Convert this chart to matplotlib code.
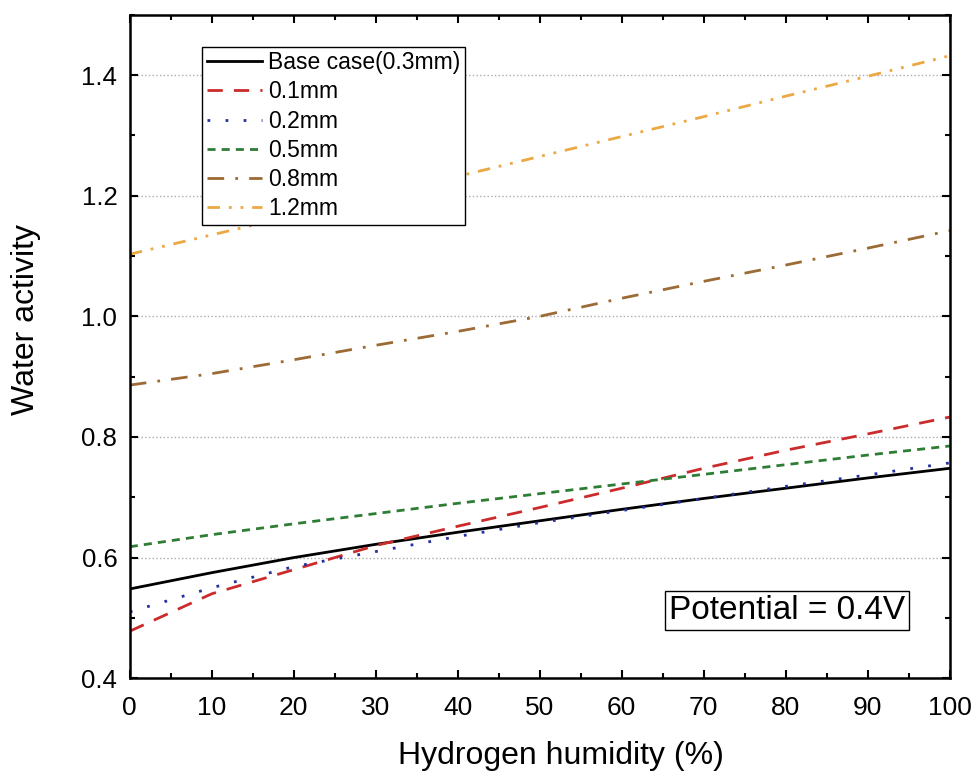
import matplotlib
matplotlib.use("Agg")
from matplotlib import pyplot as plt
from matplotlib.ticker import MultipleLocator
import numpy as np

humidity = [0, 10, 20, 30, 40, 50, 60, 70, 80, 90, 100]
base_case = [0.548, 0.575, 0.600, 0.622, 0.642, 0.661, 0.680, 0.698, 0.715, 0.732, 0.748]
mm_01 = [0.478, 0.540, 0.580, 0.620, 0.652, 0.683, 0.715, 0.748, 0.778, 0.805, 0.833]
mm_02 = [0.510, 0.550, 0.585, 0.610, 0.635, 0.658, 0.678, 0.698, 0.718, 0.737, 0.757]
mm_05 = [0.618, 0.638, 0.656, 0.673, 0.690, 0.706, 0.722, 0.738, 0.754, 0.770, 0.785]
mm_08 = [0.886, 0.905, 0.928, 0.952, 0.975, 1.000, 1.030, 1.058, 1.085, 1.113, 1.142]
mm_12 = [1.103, 1.135, 1.167, 1.199, 1.232, 1.265, 1.298, 1.331, 1.365, 1.398, 1.432]

plt.rcParams['font.family'] = ['Liberation Sans', 'DejaVu Sans']

fig = plt.figure(figsize=(9.76, 7.76), dpi=100)
ax = fig.add_axes([0.133, 0.126, 0.840, 0.855])

lw = 2
ax.plot(humidity, base_case, color='black', lw=lw, ls='-', label='Base case(0.3mm)')
ax.plot(humidity, mm_01, color='#cc2b2b', lw=lw, ls=(0, (5.5, 4)), label='0.1mm')
ax.plot(humidity, mm_02, color='#25309e', lw=lw, ls=(0, (1, 5.5)), label='0.2mm')
ax.plot(humidity, mm_05, color='#2e7d35', lw=lw, ls=(0, (2.9, 2.2)), label='0.5mm')
ax.plot(humidity, mm_08, color='#9c6a35', lw=lw, ls=(0, (6, 4, 1, 4)), label='0.8mm')
ax.plot(humidity, mm_12, color='#eba843', lw=lw, ls=(0, (4.5, 3.2, 1, 3.2, 1, 3.2)), label='1.2mm')

ax.set_xlim(0, 100)
ax.set_ylim(0.4, 1.5)
ax.xaxis.set_major_locator(MultipleLocator(10))
ax.xaxis.set_minor_locator(MultipleLocator(5))
ax.yaxis.set_major_locator(MultipleLocator(0.2))
ax.yaxis.set_minor_locator(MultipleLocator(0.1))
ax.tick_params(which='both', direction='in', top=True, right=True, width=1.5)
ax.tick_params(which='major', length=6)
ax.tick_params(which='minor', length=3.5)
ax.tick_params(axis='x', pad=13, labelsize=19)
ax.tick_params(axis='y', pad=9, labelsize=18.5)
ax.grid(axis='y', which='major', ls=':', color='#aaaaaa', lw=1)
for s in ax.spines.values():
    s.set_linewidth(1.8)

ax.set_xlabel('Hydrogen humidity (%)', fontsize=23, labelpad=15, x=0.526)
ax.set_ylabel('Water activity', fontsize=23, labelpad=29, y=0.54)

leg = ax.legend(loc='upper left', bbox_to_anchor=(0.088, 0.952), fontsize=16.5,
                frameon=True, fancybox=False, edgecolor='black', framealpha=1,
                handlelength=2.4, handletextpad=0.3, labelspacing=0.27,
                borderpad=0.2, borderaxespad=0)
leg.get_frame().set_linewidth(1)

ax.text(80.2, 0.513, 'Potential = 0.4V', fontsize=24, ha='center', va='center',
        bbox=dict(boxstyle='square,pad=0.12', fc='white', ec='black', lw=1))

fig.savefig('out.png', dpi=100)
